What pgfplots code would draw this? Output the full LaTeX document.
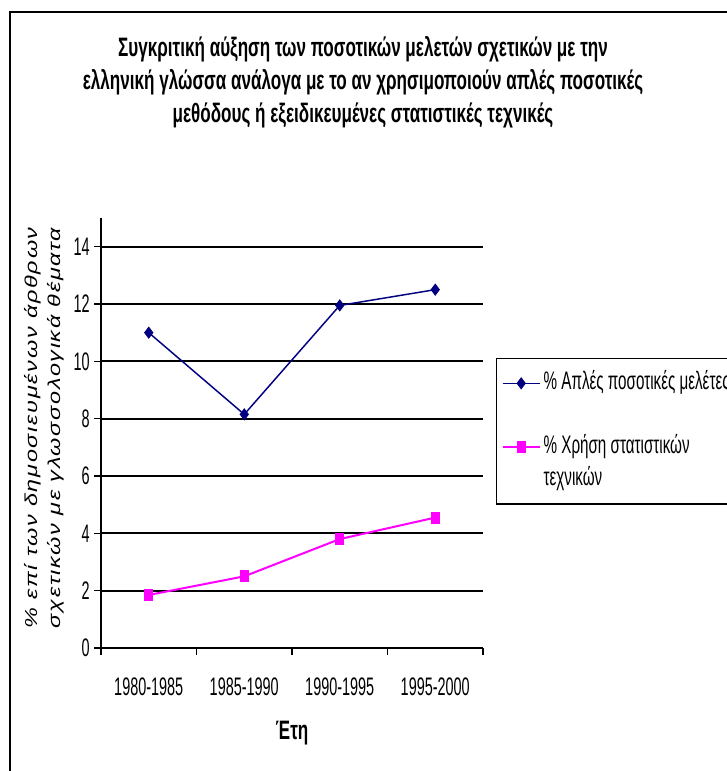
\documentclass[border=0pt]{standalone}
\usepackage{pgfplots}
\pgfplotsset{compat=1.18}
\usepackage{fontspec}
\setmainfont{Liberation Sans}
\newfontfamily\nar[FakeStretch=0.57]{Liberation Sans}
\newfontfamily\narl[FakeStretch=0.6]{Liberation Sans}
\newfontfamily\tit[FakeStretch=0.64]{Liberation Sans}
\newfontfamily\yl[FakeStretch=1.35,LetterSpace=10]{Liberation Sans}
\definecolor{navy}{RGB}{0,0,128}
\definecolor{mag}{RGB}{255,0,255}
\begin{document}
\begin{tikzpicture}
\useasboundingbox (0pt,0pt) rectangle (544.5pt,578.25pt);
\begin{axis}[
  at={(75.75pt,92.25pt)}, anchor=south west,
  scale only axis, width=286.5pt, height=322.5pt,
  xmin=-0.5, xmax=3.5, ymin=0, ymax=15,
  axis x line*=bottom, axis y line*=left,
  axis line style={line width=1.2pt,-},
  xtick={-0.5,0.5,1.5,2.5,3.5},
  x tick label as interval,
  xticklabels={1980-1985,1985-1990,1990-1995,1995-2000},
  ytick={0,2,...,14},
  ymajorgrids, grid style={black, line width=1.3pt},
  tick align=outside, major tick length=5pt,
  tick style={black, line width=1pt},
  /pgf/number format/assume math mode=true,
  tick label style={font=\nar\fontsize{19}{21}\selectfont},
  x tick label style={yshift=-14pt},
  legend style={at={(1.034,0.6744)}, anchor=north west, draw=black, line width=1pt,
    fill=white, inner xsep=3.75pt, inner ysep=11pt, row sep=9pt,
    font=\narl\fontsize{19}{21}\selectfont,
    nodes={inner xsep=2.25pt, inner ysep=0pt, text height=12pt, text depth=3pt}},
  legend cell align=left,
  legend image code/.code={\draw[mark repeat=2,mark phase=2] plot coordinates {(0pt,0pt) (13.9pt,0pt) (27.75pt,0pt)};},
]
\addplot[navy, line width=1.1pt, mark=diamond*, mark size=3.75pt, mark options={solid}] coordinates {(0,11.0) (1,8.15) (2,11.95) (3,12.5)};
\addlegendentry{\% Απλές ποσοτικές μελέτες}
\addlegendimage{empty legend}
\addlegendentry{}
\addplot[mag, line width=1.5pt, mark=square*, mark size=3.75pt, mark options={solid, xscale=0.7}] coordinates {(0,1.85) (1,2.5) (2,3.8) (3,4.55)};
\addlegendentry{\% Χρήση στατιστικών}
\addlegendimage{empty legend}
\addlegendentry{τεχνικών}
\end{axis}
\draw[line width=1.5pt] (7.5pt,-20pt) -- (7.5pt,569.5pt) -- (600pt,569.5pt);
\node[font=\tit\bfseries\fontsize{20}{22}\selectfont] at (272.25pt,541.5pt) {Συγκριτική αύξηση των ποσοτικών μελετών σχετικών με την};
\node[font=\tit\bfseries\fontsize{20}{22}\selectfont] at (272.25pt,516.75pt) {ελληνική γλώσσα ανάλογα με το αν χρησιμοποιούν απλές ποσοτικές};
\node[font=\tit\bfseries\fontsize{20}{22}\selectfont] at (272.25pt,492pt) {μεθόδους ή εξειδικευμένες στατιστικές τεχνικές};
\node[font=\tit\bfseries\fontsize{20}{22}\selectfont] at (219pt,28.5pt) {Έτη};
\node[rotate=90, align=center, font=\yl\itshape\fontsize{13}{17.25}\selectfont] at (33pt,257.25pt) {\% επί των δημοσιευμένων άρθρων\\σχετικών με γλωσσολογικά θέματα};
\end{tikzpicture}
\end{document}
